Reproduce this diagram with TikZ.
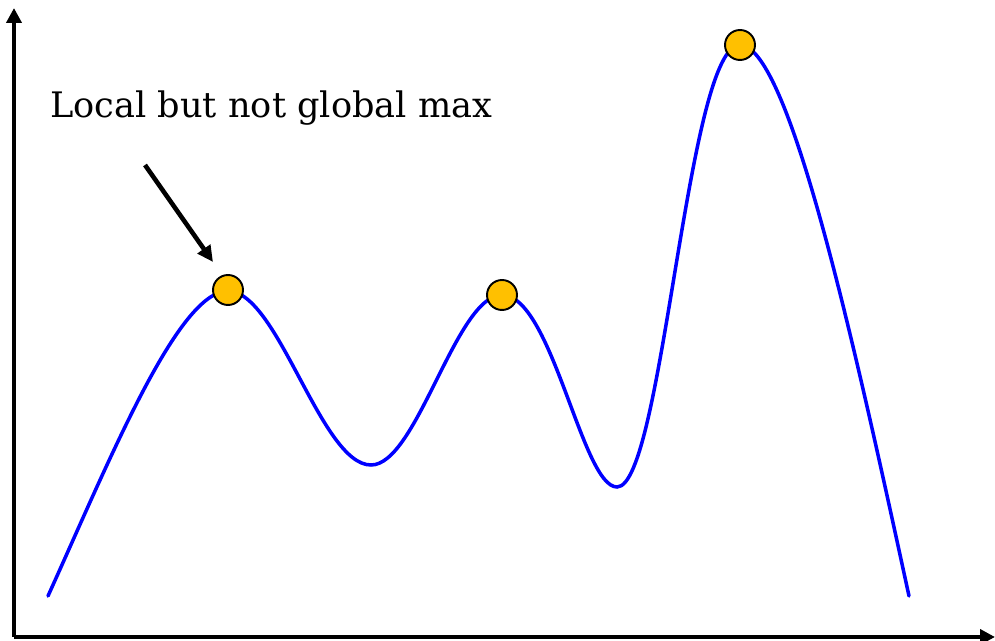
\documentclass[tikz,border=0pt]{standalone}
\usepackage{fontspec}
\setmainfont{DejaVu Serif}
\usepackage{tikz}
\usetikzlibrary{arrows.meta}

\definecolor{peakfill}{RGB}{255,192,0}
\tikzset{
  peak/.style={circle, draw=black, line width=1.1pt, fill=peakfill,
    inner sep=0pt, minimum size=0.6cm},
  axis/.style={line width=2.3pt, -{Triangle[length=0.3cm, width=0.3cm]}},
}

\begin{document}
\begin{tikzpicture}[x=0.02cm, y=-0.02cm]
  \useasboundingbox (0,0) rectangle (995,641);
  % ---- axes ----
  \coordinate (origin) at (14,637);
  \coordinate (ytip) at (14,8);
  \coordinate (xtip) at (995,637);
  \draw[axis] (origin) -- (ytip);
  \draw[axis] (origin) -- (xtip);
  % ---- the function: bumps between the extrema ----
  \coordinate (start) at (48,596);
  \coordinate (low1) at (371,465);
  \coordinate (low2) at (617,487);
  \coordinate (stop) at (909,596);
  \draw[blue, line width=2pt, line cap=round]
    (start) .. controls (110,459) and (178,291) .. (228,291)
            .. controls (278,291) and (321,465) .. (low1)
            .. controls (417,465) and (456,295) .. (502,295)
            .. controls (552,295) and (582,487) .. (low2)
            .. controls (663,487) and (687,45) .. (740,45)
            .. controls (790,45) and (858,362) .. (stop);
  % ---- maxima ----
  \node[peak] (max1) at (228,290) {};
  \node[peak] (max2) at (502,295) {};
  \node[peak] (max3) at (740,45) {};
  % ---- label and pointer ----
  \node[anchor=base west, font=\fontsize{20}{24}\selectfont, inner sep=0pt] (label) at (50,118)
    {Local but not global max};
  \coordinate (tail) at (145,165);
  \coordinate (head) at (213,262);
  \draw[line width=2.6pt, -{Triangle[length=0.32cm, width=0.3cm]}] (tail) -- (head);
\end{tikzpicture}
\end{document}
